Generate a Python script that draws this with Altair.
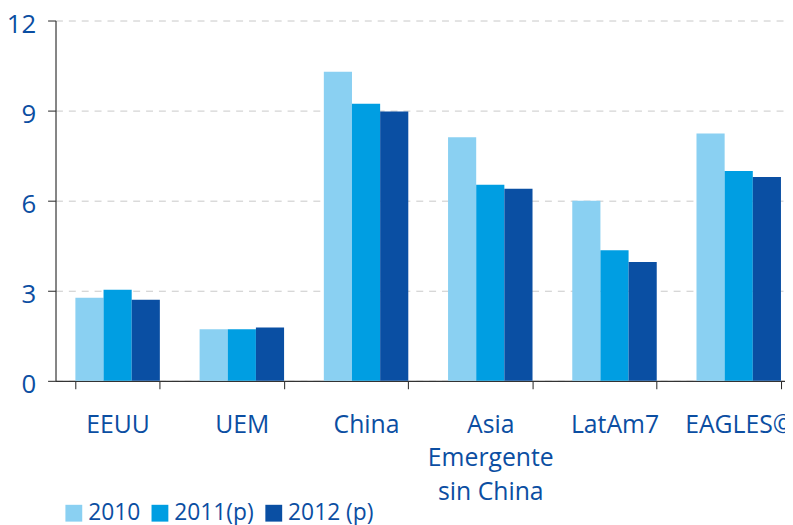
import altair as alt
import pandas as pd

categories = ["EEUU", "UEM", "China", "Asia|Emergente|sin China", "LatAm7", "EAGLES©"]
series = ["2010", "2011(p)", "2012 (p)"]
v2010 = [2.77, 1.72, 10.29, 8.11, 6.00, 8.24]
v2011 = [3.03, 1.72, 9.23, 6.53, 4.35, 6.99]
v2012 = [2.70, 1.78, 8.97, 6.40, 3.96, 6.79]
y_ticks = [0, 3, 6, 9, 12]
colors = ["#8AD0F2", "#009EE2", "#0A4FA3"]

rows = []
for s, vals in zip(series, [v2010, v2011, v2012]):
    for c, v in zip(categories, vals):
        rows.append({"cat": c, "serie": s, "val": v})
df = pd.DataFrame(rows)

TXT = "#0B4EA2"
FONT = "Open Sans"

chart = alt.Chart(df).mark_bar().encode(
    x=alt.X("cat:N", sort=categories, title=None,
            scale=alt.Scale(range=[0, 753], paddingInner=0.32, paddingOuter=0.16),
            axis=alt.Axis(labelAngle=0, tickBand="extent", tickSize=8, tickColor="#222",
                          domainColor="#333", domainWidth=1.2, labelColor=TXT,
                          labelFont=FONT, labelFontSize=25, labelPadding=24,
                          labelLineHeight=34, labelBaseline="top",
                          labelExpr="split(datum.label, '|')")),
    xOffset=alt.XOffset("serie:N", sort=series, scale=alt.Scale(paddingInner=0, paddingOuter=0)),
    y=alt.Y("val:Q", title=None,
            scale=alt.Scale(domain=[0, 12], nice=False),
            axis=alt.Axis(values=y_ticks, tickSize=8, tickColor="#222", domainColor="#333",
                          domainWidth=1.2, labelColor=TXT, labelFont=FONT, labelFontSize=26,
                          labelPadding=12, labelOffset=4, gridColor="#c8c8c8",
                          gridDash=[7, 6], gridWidth=1)),
    color=alt.Color("serie:N", sort=series, scale=alt.Scale(domain=series, range=colors),
                    legend=alt.Legend(title=None, orient="none", direction="horizontal",
                                      legendX=7, legendY=486, symbolType="square",
                                      symbolSize=289, symbolStrokeWidth=0, symbolOpacity=1,
                                      labelFont=FONT, labelFontSize=23, labelColor=TXT,
                                      labelOffset=3, columnPadding=8, padding=0)),
).properties(
    width=737, height=364,
    autosize=alt.AutoSizeParams(type="none"),
    padding={"left": 48, "top": 10, "right": 0, "bottom": 143},
).configure_view(stroke=None)

chart.save("out.html", embed_options={"renderer": "svg", "actions": False})
